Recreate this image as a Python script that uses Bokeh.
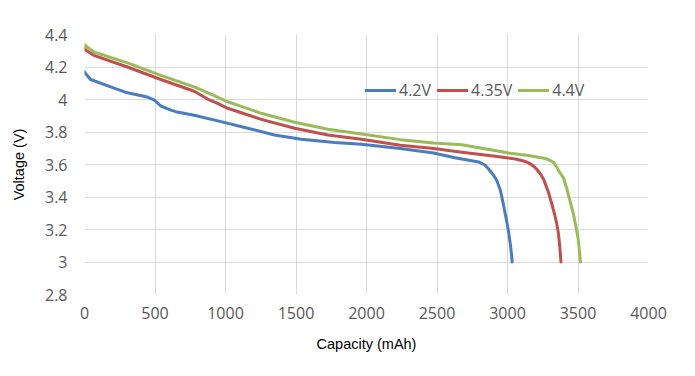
from bokeh.plotting import figure
from bokeh.models import Range1d, FixedTicker, Legend, LegendItem
from bokeh.embed import file_html
from bokeh.resources import INLINE

# 4.2V charge
cap_42 = [0, 7, 43, 185, 304, 446, 493, 541, 612, 648, 778, 968, 1158, 1347, 1537, 1774, 1964,
          2240, 2476, 2618, 2676, 2795, 2840, 2866, 2900, 2925, 2950, 2972, 2990, 3007, 3020,
          3028, 3033]
v_42 = [4.17, 4.16, 4.123, 4.078, 4.041, 4.015, 3.998, 3.96, 3.935, 3.925, 3.903, 3.864, 3.823,
        3.782, 3.756, 3.735, 3.725, 3.698, 3.671, 3.643, 3.634, 3.616, 3.597, 3.572, 3.535,
        3.5, 3.44, 3.35, 3.27, 3.19, 3.11, 3.05, 3.0]

# 4.35V charge
cap_435 = [0, 7, 66, 304, 541, 778, 873, 944, 1016, 1253, 1490, 1727, 1964, 2240, 2476, 2676,
           2913, 3056, 3114, 3150, 3185, 3209, 3235, 3257, 3290, 3315, 3335, 3350, 3362, 3369,
           3375, 3379]
v_435 = [4.315, 4.304, 4.272, 4.2, 4.123, 4.051, 4.003, 3.976, 3.946, 3.878, 3.823, 3.782, 3.756,
         3.718, 3.698, 3.675, 3.651, 3.634, 3.622, 3.61, 3.59, 3.569, 3.54, 3.508, 3.43, 3.355,
         3.29, 3.233, 3.17, 3.11, 3.05, 3.0]

# 4.4V charge
cap_44 = [0, 7, 66, 304, 541, 778, 920, 1016, 1253, 1490, 1727, 1964, 2240, 2476, 2676, 2950,
          3032, 3150, 3268, 3300, 3327, 3345, 3362, 3380, 3398, 3421, 3445, 3468, 3485, 3500,
          3510, 3517]
v_44 = [4.34, 4.331, 4.292, 4.225, 4.149, 4.078, 4.024, 3.986, 3.915, 3.86, 3.817, 3.788, 3.753,
        3.732, 3.722, 3.68, 3.667, 3.655, 3.637, 3.626, 3.612, 3.59, 3.563, 3.54, 3.515, 3.45,
        3.37, 3.294, 3.22, 3.15, 3.07, 3.0]

x_ticks = [0, 500, 1000, 1500, 2000, 2500, 3000, 3500, 4000]
y_ticks = [2.8, 3.0, 3.2, 3.4, 3.6, 3.8, 4.0, 4.2, 4.4]
y_labels = {2.8: "2.8", 3.0: "3", 3.2: "3.2", 3.4: "3.4", 3.6: "3.6", 3.8: "3.8", 4.0: "4", 4.2: "4.2", 4.4: "4.4"}

series_names = ["4.2V", "4.35V", "4.4V"]
colors = ["#4a7cc0", "#c0504d", "#9bbb59"]

p = figure(width=695, height=376, output_backend="svg", toolbar_location=None,
           x_range=Range1d(0, 4000), y_range=Range1d(2.8, 4.4),
           min_border_left=84, min_border_right=47, min_border_top=34, min_border_bottom=82)
p.outline_line_color = None
p.background_fill_color = "white"
p.border_fill_color = "white"

renderers = []
for cx, vy, c in zip([cap_42, cap_435, cap_44], [v_42, v_435, v_44], colors):
    r = p.line(cx, vy, line_color=c, line_width=3, line_join="round", line_cap="round")
    renderers.append(r)

for ax in (p.xaxis[0], p.yaxis[0]):
    ax.axis_line_color = None
    ax.major_tick_line_color = None
    ax.minor_tick_line_color = None
    ax.major_tick_out = 0
    ax.major_tick_in = 0
    ax.minor_tick_out = 0
    ax.minor_tick_in = 0
    ax.major_label_text_color = "#595959"
    ax.major_label_text_font = "Open Sans"
    ax.major_label_text_font_size = "16px"
    ax.axis_label_text_font = "Liberation Sans"
    ax.axis_label_text_font_size = "14.5px"
    ax.axis_label_text_font_style = "normal"
    ax.axis_label_text_color = "black"

p.xaxis.ticker = FixedTicker(ticks=x_ticks)
p.yaxis.ticker = FixedTicker(ticks=y_ticks)
p.yaxis.major_label_overrides = y_labels
p.xaxis.major_label_standoff = 12
p.yaxis.major_label_standoff = 17
p.xaxis.axis_label = "Capacity (mAh)"
p.yaxis.axis_label = "Voltage (V)"
p.xaxis.axis_label_standoff = 14
p.yaxis.axis_label_standoff = 15

p.xgrid.ticker = FixedTicker(ticks=x_ticks)
p.ygrid.ticker = FixedTicker(ticks=y_ticks)
p.xgrid.grid_line_color = "#d9d9d9"
p.ygrid.grid_line_color = "#d9d9d9"

legend = Legend(items=[LegendItem(label=n, renderers=[r]) for n, r in zip(series_names, renderers)],
                location=(281, 193), orientation="horizontal",
                glyph_width=31, glyph_height=20, label_height=20, label_standoff=3,
                spacing=6, padding=0, margin=0,
                label_text_font="Open Sans", label_text_font_size="16px",
                label_text_color="#595959",
                border_line_color=None, background_fill_alpha=0)
p.add_layout(legend)

open("out.html", "w").write(file_html(p, INLINE))
